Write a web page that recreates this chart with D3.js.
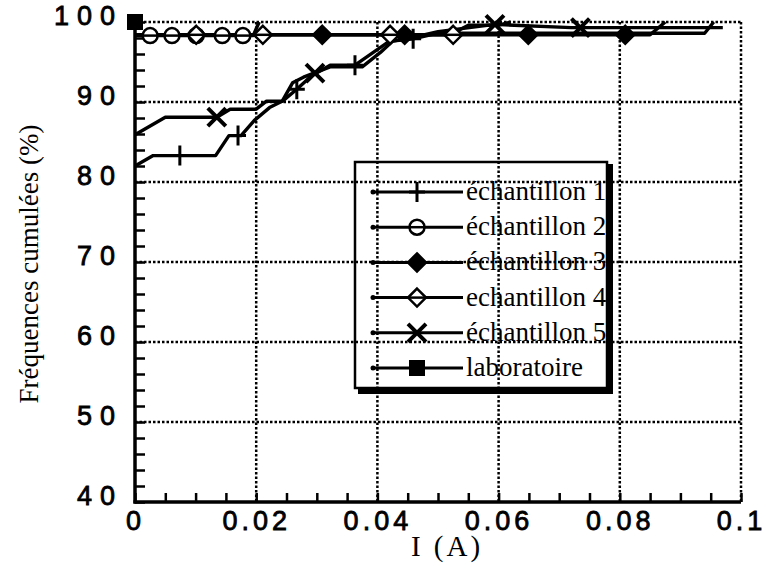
<!DOCTYPE html>
<html>
<head>
<meta charset="utf-8">
<script src="https://cdn.jsdelivr.net/npm/d3@7"></script>
<style>
  body { margin: 0; background: #fff; }
  svg { display: block; }
</style>
</head>
<body>
<div id="chart"></div>
<script>
// values
const xTicks = [0, 0.02, 0.04, 0.06, 0.08, 0.1];
const yTicks = [40, 50, 60, 70, 80, 90, 100];
const seriesNames = ["échantillon 1", "échantillon 2", "échantillon 3", "echantillon 4", "échantillon 5", "laboratoire"];
const markerTypes = ["plus", "circle", "diamondFill", "diamondOpen", "cross", "square"];

const ech1 = [[0, 82.0], [0.003, 83.3], [0.0133, 83.3], [0.0155, 85.8], [0.0175, 85.8], [0.0197, 87.7], [0.0222, 89.3], [0.0245, 90.2], [0.0267, 91.6], [0.029, 93.2], [0.0322, 94.6], [0.0363, 94.6], [0.0395, 96.3], [0.042, 97.6], [0.0459, 97.9], [0.05, 98.6], [0.094, 98.6], [0.0955, 100]];
const ech1Marks = [[0.0074, 83.3], [0.017, 85.8], [0.0267, 91.6], [0.0363, 94.6], [0.0459, 97.9]];

const ech2 = [[0, 98.3], [0.0195, 98.3], [0.0205, 100]];
const ech2Marks = [[0.0025, 98.3], [0.0061, 98.3], [0.0101, 98.3], [0.0144, 98.3], [0.0178, 98.3]];

const ech3 = [[0, 98.4], [0.085, 98.4], [0.0875, 100]];
const ech3Marks = [[0.0309, 98.4], [0.0445, 98.4], [0.0649, 98.4], [0.0809, 98.4]];

const ech4 = [[0, 98.4], [0.052, 98.4], [0.055, 99.6], [0.06, 99.6], [0.062, 100]];
const ech4Marks = [[0.0101, 98.4], [0.0211, 98.4], [0.0421, 98.4], [0.0525, 98.4]];

const ech5 = [[0, 85.9], [0.005, 88.1], [0.0135, 88.1], [0.0157, 89.1], [0.02, 89.1], [0.0217, 90.1], [0.0243, 90.1], [0.026, 92.4], [0.0278, 93.1], [0.0322, 94.4], [0.0375, 94.4], [0.0405, 96.2], [0.0425, 97.6], [0.0455, 98.0], [0.05, 98.8], [0.0594, 99.7], [0.072, 99.3], [0.097, 99.3]];
const ech5Marks = [[0.0135, 88.1], [0.0297, 93.6], [0.0594, 99.7], [0.0735, 99.3]];

const labo = [[0, 100]];
const laboMarks = [[0, 100]];

const allLines = [ech1, ech2, ech3, ech4, ech5, labo];
const allMarks = [ech1Marks, ech2Marks, ech3Marks, ech4Marks, ech5Marks, laboMarks];

const W = 766, H = 570;
const svg = d3.select("#chart").append("svg").attr("width", W).attr("height", H);

const x = d3.scaleLinear().domain([0, 0.1]).range([135, 741]);
const y = d3.scaleLinear().domain([40, 100]).range([502, 22]);

// dotted grid (includes top and right frame)
const grid = svg.append("g");
grid.selectAll(".gx").data(xTicks.slice(1)).enter().append("line")
  .attr("x1", d => x(d)).attr("x2", d => x(d))
  .attr("y1", y(100)).attr("y2", y(40))
  .attr("stroke", "#000").attr("stroke-width", 2.5).attr("stroke-dasharray", "2.5,2");
grid.selectAll(".gy").data(yTicks.slice(1)).enter().append("line")
  .attr("x1", x(0)).attr("x2", x(0.1))
  .attr("y1", d => y(d)).attr("y2", d => y(d))
  .attr("stroke", "#000").attr("stroke-width", 2.5).attr("stroke-dasharray", "2.5,2");

// minor ticks, pointing inside
svg.append("g").attr("transform", `translate(0,${y(40)})`)
  .call(d3.axisBottom(x).tickValues(d3.range(0, 0.1001, 0.005)).tickSizeInner(-9).tickSizeOuter(0).tickFormat(""))
  .call(g => g.select(".domain").remove())
  .call(g => g.selectAll("line").attr("stroke-width", 2.5));
svg.append("g").attr("transform", `translate(${x(0)},0)`)
  .call(d3.axisLeft(y).tickValues(d3.range(40, 100.1, 2)).tickSizeInner(-10).tickSizeOuter(0).tickFormat(""))
  .call(g => g.select(".domain").remove())
  .call(g => g.selectAll("line").attr("stroke-width", 2.5));

// solid left and bottom axes
svg.append("line").attr("x1", x(0)).attr("x2", x(0)).attr("y1", y(100)).attr("y2", y(40) + 1.5)
  .attr("stroke", "#000").attr("stroke-width", 3.5);
svg.append("line").attr("x1", x(0) - 1.5).attr("x2", x(0.1)).attr("y1", y(40)).attr("y2", y(40))
  .attr("stroke", "#000").attr("stroke-width", 3.5);

// tick labels
svg.append("g").attr("transform", `translate(0,${y(40)})`)
  .call(d3.axisBottom(x).tickValues(xTicks).tickSize(0).tickPadding(9)
    .tickFormat(d => d === 0 ? "0" : d3.format(".2~f")(d)))
  .call(g => g.select(".domain").remove())
  .call(g => g.selectAll("text").attr("font-family", "Liberation Sans, Arial, sans-serif")
    .attr("font-size", 27).attr("fill", "#000").attr("letter-spacing", 4)
    .attr("stroke", "#000").attr("stroke-width", 0.8).attr("dy", "0.72em"));

svg.append("g").attr("transform", `translate(${x(0)},0)`)
  .call(d3.axisLeft(y).tickValues(yTicks).tickSize(0).tickPadding(12))
  .call(g => g.select(".domain").remove())
  .call(g => g.selectAll("text").attr("font-family", "Liberation Sans, Arial, sans-serif")
    .attr("font-size", 27).attr("fill", "#000").attr("letter-spacing", 8)
    .attr("stroke", "#000").attr("stroke-width", 0.8).attr("dy", "0.1em"));

// axis titles
svg.append("text").attr("x", 447).attr("y", 556).attr("text-anchor", "middle")
  .attr("font-family", "Liberation Serif, Times New Roman, serif").attr("font-size", 29)
  .attr("letter-spacing", 3).text("I (A)");
svg.append("text").attr("transform", "translate(38,264) rotate(-90)").attr("text-anchor", "middle")
  .attr("font-family", "Liberation Serif, Times New Roman, serif").attr("font-size", 27)
  .text("Fréquences cumulées (%)");

// markers
function marker(g, type, cx, cy) {
  if (type === "plus") {
    g.append("path").attr("d", `M${cx - 8},${cy}H${cx + 8}M${cx},${cy - 10}V${cy + 10}`)
      .attr("stroke", "#000").attr("stroke-width", 3).attr("fill", "none");
  } else if (type === "circle") {
    g.append("circle").attr("cx", cx).attr("cy", cy).attr("r", 7.5)
      .attr("fill", "#fff").attr("stroke", "#000").attr("stroke-width", 2.5);
    g.append("line").attr("x1", cx - 7).attr("x2", cx + 7).attr("y1", cy).attr("y2", cy)
      .attr("stroke", "#000").attr("stroke-width", 2.5);
  } else if (type === "diamondFill" || type === "diamondOpen") {
    g.append("path").attr("d", `M${cx},${cy - 9}L${cx + 9},${cy}L${cx},${cy + 9}L${cx - 9},${cy}Z`)
      .attr("fill", type === "diamondFill" ? "#000" : "#fff").attr("stroke", "#000").attr("stroke-width", 2.5);
    if (type === "diamondOpen") {
      g.append("line").attr("x1", cx - 8).attr("x2", cx + 8).attr("y1", cy).attr("y2", cy)
        .attr("stroke", "#000").attr("stroke-width", 2.5);
    }
  } else if (type === "cross") {
    g.append("path").attr("d", `M${cx - 9},${cy - 9}L${cx + 9},${cy + 9}M${cx + 9},${cy - 9}L${cx - 9},${cy + 9}`)
      .attr("stroke", "#000").attr("stroke-width", 4).attr("fill", "none");
  } else if (type === "square") {
    g.append("rect").attr("x", cx - 8).attr("y", cy - 8).attr("width", 16).attr("height", 16).attr("fill", "#000");
  }
}

const line = d3.line().x(d => x(d[0])).y(d => y(d[1]));
const plot = svg.append("g");
allLines.forEach((pts, i) => {
  plot.append("path").datum(pts).attr("d", line)
    .attr("fill", "none").attr("stroke", "#000").attr("stroke-width", 3.4).attr("stroke-linejoin", "round");
});
allMarks.forEach((pts, i) => {
  pts.forEach(p => marker(plot, markerTypes[i], x(p[0]), y(p[1])));
});

// legend (transparent box with drop shadow edge)
const lg = svg.append("g");
lg.append("path").attr("d", "M358,391H610V164")
  .attr("fill", "none").attr("stroke", "#000").attr("stroke-width", 6);
lg.append("rect").attr("x", 355).attr("y", 162).attr("width", 252).attr("height", 226)
  .attr("fill", "none").attr("stroke", "#000").attr("stroke-width", 2.5);
seriesNames.forEach((name, i) => {
  const ly = 192 + i * 35.2;
  lg.append("line").attr("x1", 373).attr("x2", 463).attr("y1", ly).attr("y2", ly)
    .attr("stroke", "#000").attr("stroke-width", 3);
  lg.append("circle").attr("cx", 373).attr("cy", ly).attr("r", 2.5).attr("fill", "#000");
  marker(lg, markerTypes[i], 417, ly);
  lg.append("text").attr("x", 466).attr("y", ly + 8)
    .attr("font-family", "Liberation Serif, Times New Roman, serif").attr("font-size", 27)
    .text(name);
});
</script>
</body>
</html>
